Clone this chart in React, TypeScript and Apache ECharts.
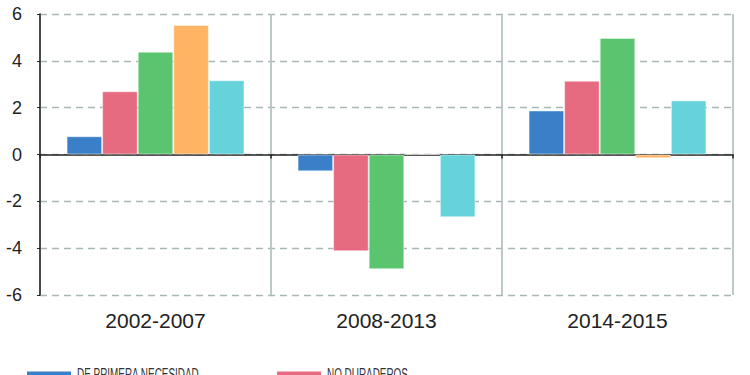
import React, { useEffect, useRef } from "react";
import * as echarts from "echarts";

const categories = ["2002-2007", "2008-2013", "2014-2015"];
const seriesNames = ["DE PRIMERA NECESIDAD", "NO DURADEROS", "SEMIDURADEROS", "DURADEROS", "SERVICIOS"];
const primeraNecesidad = [0.78, -0.72, 1.88];
const noDuraderos = [2.7, -4.13, 3.15];
const semiduraderos = [4.39, -4.9, 4.98];
const duraderos = [5.53, 0, -0.16];
const servicios = [3.17, -2.68, 2.31];
const colors = ["#3a80c8", "#e66a80", "#5bc46e", "#ffb463", "#66d3db"];
const yTicks = [-6, -4, -2, 0, 2, 4, 6];

export default function App() {
  const ref = useRef<HTMLDivElement>(null);
  useEffect(() => {
    document.body.style.margin = "0";
    const chart = echarts.init(ref.current!, null, { renderer: "svg" });
    const values = [primeraNecesidad, noDuraderos, semiduraderos, duraderos, servicios];
    const legendX = [27, 277, 27, 277, 27];
    const legendY = [371.5, 371.5, 400, 400, 430];
    const legendGraphics: any[] = [];
    seriesNames.forEach((n, i) => {
      legendGraphics.push({
        type: "rect",
        left: legendX[i],
        top: legendY[i],
        shape: { width: 44, height: 10 },
        style: { fill: colors[i] },
        silent: true,
      });
      legendGraphics.push({
        type: "text",
        x: legendX[i] + 50,
        y: legendY[i] - 4.5,
        scaleX: 0.62,
        style: {
          text: n,
          fill: "#333",
          font: "16px 'Liberation Sans'",
          verticalAlign: "top",
        },
        silent: true,
      });
    });
    chart.setOption({
      animation: false,
      grid: { left: 40, right: 17, top: 14, bottom: 80 },
      graphic: legendGraphics,
      xAxis: [
        {
          type: "category",
          data: categories,
          position: "bottom",
          axisLine: { show: false, onZero: false },
          axisTick: { show: false },
          axisLabel: { fontFamily: "Liberation Sans", fontSize: 21, color: "#222", margin: 15 },
          splitLine: { show: true, interval: 0, lineStyle: { color: "#b8c2c2", width: 1.8 } },
        },
        {
          type: "category",
          data: categories,
          position: "bottom",
          axisLine: { show: true, onZero: true, lineStyle: { color: "#222", width: 1.5 } },
          axisTick: { show: true, interval: 0, length: 4, lineStyle: { color: "#222", width: 1.5 } },
          axisLabel: { show: false },
          splitLine: { show: false },
        },
      ],
      yAxis: {
        type: "value",
        min: -6,
        max: 6,
        interval: 2,
        axisLine: { show: true, lineStyle: { color: "#222", width: 1.5 } },
        axisTick: { show: true, length: 3, lineStyle: { color: "#222" } },
        axisLabel: {
          fontFamily: "Liberation Sans",
          fontSize: 18,
          color: "#222",
          margin: 18,
          formatter: (v: number) => (yTicks.includes(v) ? String(v) : ""),
        },
        splitLine: { show: true, lineStyle: { color: "#aab6b6", type: [7, 5], width: 1.3 } },
      },
      series: seriesNames.map((n, i) => ({
        name: n,
        type: "bar",
        xAxisIndex: 0,
        data: values[i],
        barGap: "0%",
        barCategoryGap: "23%",
        itemStyle: { color: colors[i], borderColor: "rgba(255,255,255,0.45)", borderWidth: 1 },
      })),
    });
    return () => chart.dispose();
  }, []);
  return <div ref={ref} style={{ width: 750, height: 375, position: "absolute", left: 0, top: 0 }} />;
}
